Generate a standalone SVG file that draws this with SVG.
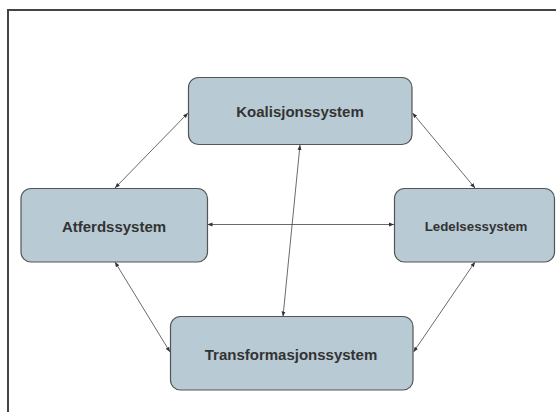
<svg xmlns="http://www.w3.org/2000/svg" width="556" height="412" viewBox="0 0 556 412">
<defs>
<marker id="ah" viewBox="0 0 10 10" refX="10" refY="5" markerWidth="5" markerHeight="5" orient="auto-start-reverse" markerUnits="userSpaceOnUse">
<path d="M0,1 L10,5 L0,9 z" fill="#333"/>
</marker>
<style>
.box{fill:#b8cad4;stroke:#555;stroke-width:1.2}
.lbl{font-family:"Liberation Sans",Arial,sans-serif;font-weight:bold;font-size:15px;fill:#333;text-anchor:middle}
.c{stroke:#444;stroke-width:0.8;fill:none;marker-start:url(#ah);marker-end:url(#ah)}
</style>
</defs>
<rect x="0" y="0" width="556" height="412" fill="#fff"/>
<path d="M8,412 V10 H556" fill="none" stroke="#444" stroke-width="2"/>
<g id="connectors">
<line class="c" x1="188" y1="113" x2="115" y2="188"/>
<line class="c" x1="412.5" y1="113" x2="475" y2="188"/>
<line class="c" x1="207.5" y1="224.5" x2="394" y2="224.5"/>
<line class="c" x1="300" y1="145" x2="283" y2="316.5"/>
<line class="c" x1="115" y1="262" x2="170" y2="352"/>
<line class="c" x1="475" y1="262" x2="413.5" y2="352"/>
</g>
<g id="koalisjonssystem">
<rect class="box" x="188.5" y="77.5" width="223.5" height="67" rx="10"/>
<text class="lbl" x="300" y="117">Koalisjonssystem</text>
</g>
<g id="atferdssystem">
<rect class="box" x="21" y="188.5" width="186.5" height="73.5" rx="10"/>
<text class="lbl" x="114" y="231.5">Atferdssystem</text>
</g>
<g id="ledelsessystem">
<rect class="box" x="394.5" y="188.5" width="160" height="73.5" rx="10"/>
<text class="lbl" x="476" y="230.5" style="font-size:13.3px">Ledelsessystem</text>
</g>
<g id="transformasjonssystem">
<rect class="box" x="170.5" y="316.5" width="242.5" height="73.5" rx="10"/>
<text class="lbl" x="291" y="359.5">Transformasjonssystem</text>
</g>
</svg>
